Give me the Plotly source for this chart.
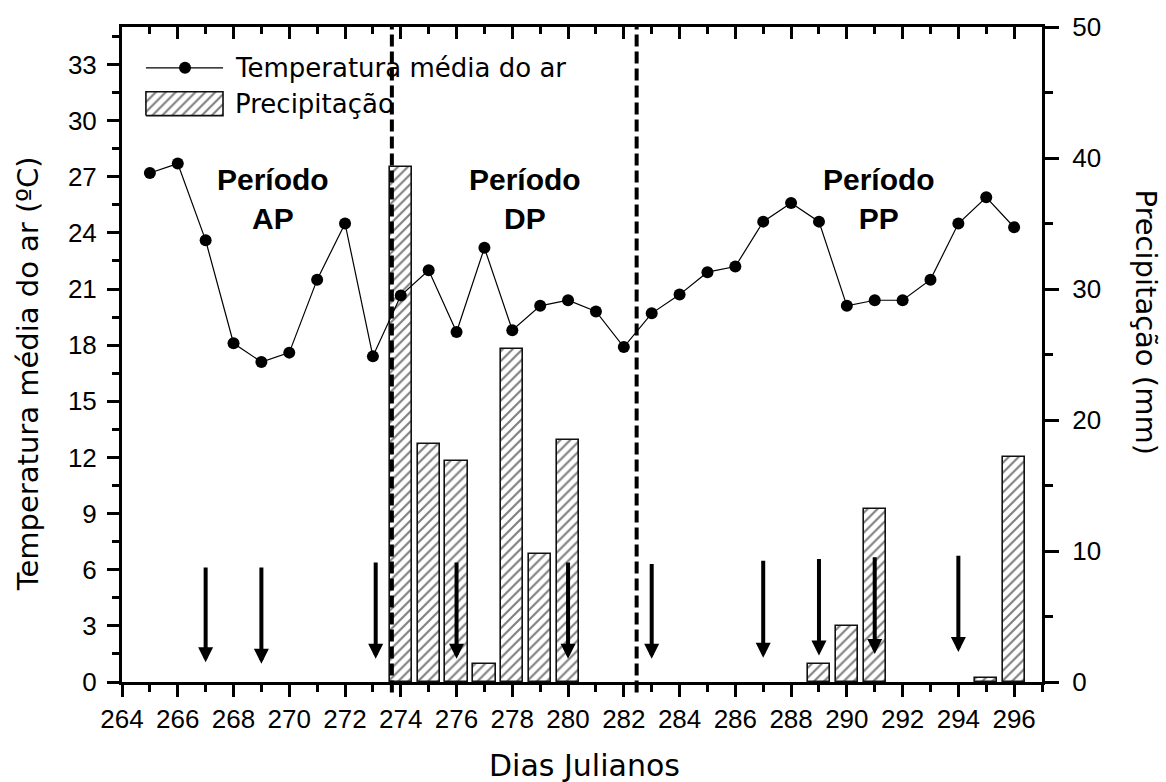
import plotly.graph_objects as go

# ---------------- data ----------------
days = list(range(265, 297))
temp = [27.2, 27.7, 23.6, 18.1, 17.1, 17.6, 21.5, 24.5, 17.4, 20.65, 22.0, 18.7,
        23.2, 18.8, 20.1, 20.4, 19.8, 17.9, 19.7, 20.7, 21.9, 22.2, 24.6, 25.6,
        24.6, 20.1, 20.4, 20.4, 21.5, 24.5, 25.9, 24.3]

precip_days = [274, 275, 276, 277, 278, 279, 280, 289, 290, 291, 295, 296]
precip = [39.3, 18.2, 16.9, 1.4, 25.4, 9.8, 18.5, 1.4, 4.3, 13.2, 0.3, 17.2]

arrow_days = [267, 269, 273.1, 276, 280, 283, 287, 289, 291, 294]
arrow_top = [6.2, 6.2, 6.47, 6.47, 6.47, 6.38, 6.56, 6.65, 6.74, 6.83]
arrow_tip = [1.06, 0.98, 1.24, 1.24, 1.24, 1.24, 1.3, 1.42, 1.5, 1.6]

period_bounds = [273.68, 282.46]
period_names = ["AP", "DP", "PP"]
period_label_x = [269.4, 278.45, 291.15]
period_label_y = 25.8

x_range = [264, 297]
temp_range = [0, 35]
precip_range = [0, 50]

legend_labels = ["Temperatura média do ar", "Precipitação"]

TICKFONT = dict(family="Liberation Sans, Arial", size=26, color="black")
TITLEFONT = dict(family="DejaVu Sans", size=29, color="black")
HATCH = dict(shape="/", fgcolor="black", bgcolor="white", size=7, solidity=0.3)

fig = go.Figure()

# precipitation bars (base subplot: x / y on the right)
fig.add_trace(go.Bar(
    x=precip_days, y=precip, xaxis="x", yaxis="y", width=0.8,
    marker=dict(color="white", line=dict(color="#111", width=1.6), pattern=HATCH),
    name=legend_labels[1]))

# temperature line (overlay subplot: x2 top / y2 left)
fig.add_trace(go.Scatter(
    x=days, y=temp, xaxis="x2", yaxis="y2", mode="lines+markers",
    line=dict(color="black", width=1.2),
    marker=dict(color="black", size=12), name=legend_labels[0]))

# manual legend on a paper-like overlay axis pair
LX0, LX1, LXM = 0.026, 0.1098, 0.0685
LY1, LY2 = 0.9377, 0.883
BY0, BY1 = 0.8647, 0.9012
fig.add_trace(go.Scatter(x=[LX0, LX1], y=[LY1, LY1], xaxis="x3", yaxis="y3",
                         mode="lines", line=dict(color="black", width=1.2),
                         hoverinfo="skip"))
fig.add_trace(go.Scatter(x=[LXM], y=[LY1], xaxis="x3", yaxis="y3",
                         mode="markers", marker=dict(color="black", size=12),
                         hoverinfo="skip"))
fig.add_trace(go.Scatter(x=[LX0, LX1, LX1, LX0, LX0], y=[BY0, BY0, BY1, BY1, BY0],
                         xaxis="x3", yaxis="y3", mode="lines", fill="toself",
                         fillcolor="white", fillpattern=HATCH,
                         line=dict(color="#111", width=1.6), hoverinfo="skip"))

annotations = []
for lab, ly in zip(legend_labels, [LY1, LY2]):
    annotations.append(dict(xref="paper", yref="paper", x=0.1207, y=ly, text=lab,
                            showarrow=False, xanchor="left", yanchor="middle",
                            font=dict(family="DejaVu Sans", size=26, color="black")))

# period labels
for name, px in zip(period_names, period_label_x):
    annotations.append(dict(xref="x", yref="y2", x=px, y=period_label_y,
                            text="<b>Período<br>" + name + "</b>", showarrow=False,
                            xanchor="center", yanchor="middle",
                            font=dict(family="Liberation Sans, Arial", size=30, color="black")))

# arrows
for d, top, tip in zip(arrow_days, arrow_top, arrow_tip):
    annotations.append(dict(xref="x", yref="y2", x=d, y=tip, axref="x", ayref="y2",
                            ax=d, ay=top, text="", showarrow=True, arrowhead=2,
                            arrowsize=0.75, arrowwidth=4, arrowcolor="black", standoff=0))

# axis titles
annotations.append(dict(xref="paper", yref="paper", x=-0.102, y=0.47,
                        text="Temperatura média do ar (ºC)", textangle=-90,
                        showarrow=False, xanchor="center", yanchor="middle", font=TITLEFONT))
annotations.append(dict(xref="paper", yref="paper", x=1.113, y=0.549,
                        text="Precipitação (mm)", textangle=90,
                        showarrow=False, xanchor="center", yanchor="middle", font=TITLEFONT))
annotations.append(dict(xref="paper", yref="paper", x=0.503, y=-0.128,
                        text="Dias Julianos", showarrow=False,
                        xanchor="center", yanchor="middle",
                        font=dict(family="DejaVu Sans", size=30, color="black")))

shapes = []
for b in period_bounds:
    shapes.append(dict(type="line", xref="x", yref="paper", x0=b, x1=b, y0=-0.016, y1=1,
                       line=dict(color="black", width=4, dash="12px,5px"), layer="above"))

fig.update_layout(
    width=1166, height=782, autosize=False,
    margin=dict(l=122, r=124, t=24, b=100, pad=0),
    paper_bgcolor="white", plot_bgcolor="white",
    showlegend=False, bargap=0,
    xaxis=dict(range=x_range, side="bottom", showline=True, linecolor="black", linewidth=3,
               ticks="outside", ticklen=12, tickwidth=2.5, tickcolor="black",
               tick0=264, dtick=2, tickfont=TICKFONT, showgrid=False, zeroline=False,
               minor=dict(dtick=1, tick0=264, ticks="outside", ticklen=7, tickwidth=2.5,
                          tickcolor="black", showgrid=False)),
    yaxis=dict(range=precip_range, side="right", showline=True, linecolor="black",
               linewidth=3, ticks="outside", ticklen=14, tickwidth=2.5, tickcolor="black",
               tick0=0, dtick=10, tickfont=TICKFONT, showgrid=False, zeroline=False,
               ticklabelstandoff=8,
               minor=dict(dtick=5, ticks="outside", ticklen=8, tickwidth=2.5,
                          tickcolor="black", showgrid=False)),
    xaxis2=dict(range=x_range, overlaying="x", side="top", anchor="y2", showline=True,
                linecolor="black", linewidth=3, ticks="inside", ticklen=12, tickwidth=2.5,
                tickcolor="black", tick0=264, dtick=2, showticklabels=False,
                showgrid=False, zeroline=False,
                minor=dict(dtick=1, tick0=264, ticks="inside", ticklen=7, tickwidth=2.5,
                           tickcolor="black", showgrid=False)),
    yaxis2=dict(range=temp_range, overlaying="y", side="left", anchor="x2", showline=True,
                linecolor="black", linewidth=3, ticks="outside", ticklen=12, tickwidth=2.5,
                tickcolor="black", tick0=0, dtick=3, tickfont=TICKFONT,
                showgrid=False, zeroline=False, ticklabelstandoff=5,
                minor=dict(dtick=1.5, ticks="outside", ticklen=7, tickwidth=2.5,
                           tickcolor="black", showgrid=False)),
    xaxis3=dict(range=[0, 1], overlaying="x", visible=False, anchor="y3"),
    yaxis3=dict(range=[0, 1], overlaying="y", visible=False, anchor="x3"),
    annotations=annotations, shapes=shapes,
)

fig.write_html("out.html")
